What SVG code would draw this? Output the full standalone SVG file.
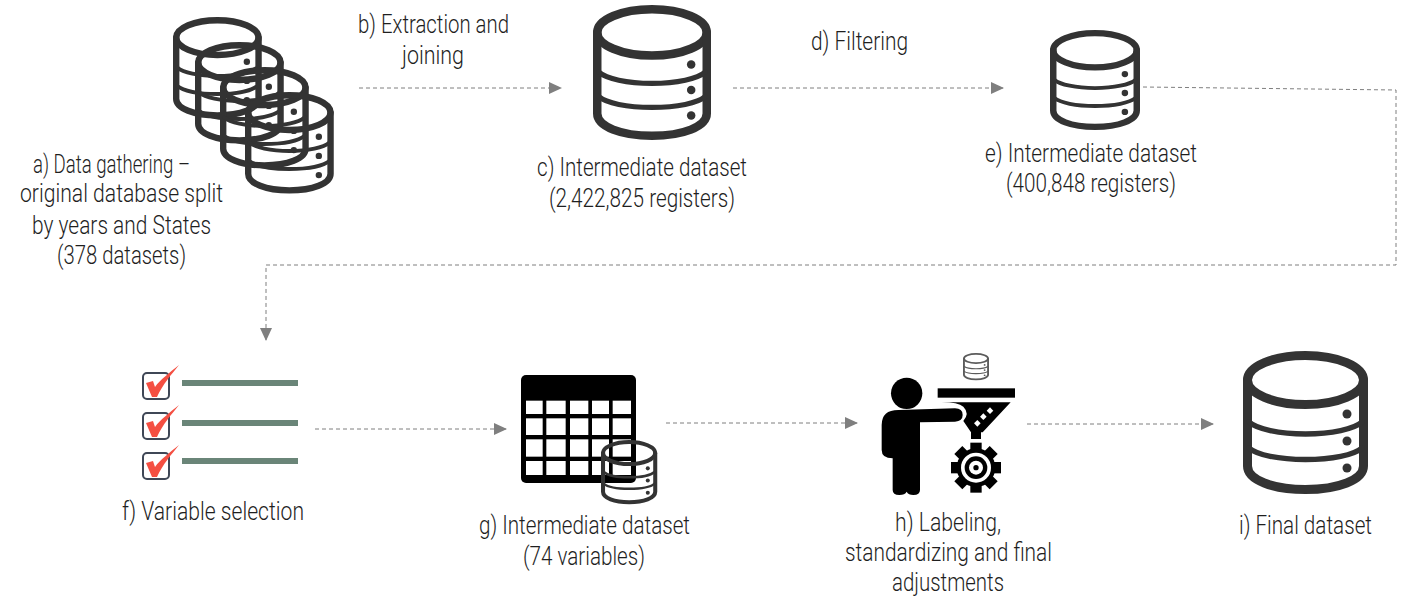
<svg xmlns="http://www.w3.org/2000/svg" xmlns:xlink="http://www.w3.org/1999/xlink" width="1428" height="611" viewBox="0 0 1428 611">
<style>
text{font-family:Roboto,"Liberation Sans",sans-serif;font-weight:300;font-size:25px;fill:#1f1f1f}
.c{fill:none;stroke:#7f7f7f;stroke-width:1;stroke-dasharray:4 3}
.db{fill:none;stroke:#333;stroke-width:9;stroke-linecap:round}
.thin{stroke-width:5.5}
.dot{fill:#333}
</style>
<defs>
<marker id="a" markerUnits="userSpaceOnUse" markerWidth="13" markerHeight="12" refX="12" refY="6" orient="auto"><path d="M0 0L13 6L0 12Z" fill="#7f7f7f"/></marker>
<g id="d">
<ellipse class="db" cx="62.5" cy="29" rx="58" ry="24.5"/>
<path class="db" d="M4.5 29V115C4.5 129 30 138.5 62.5 138.5S120.500 129 120.500 115V29"/>
<path class="db thin" d="M6 71C14 78 36 83 62.500 83S111 78 119 71M6 97C14 104 36 108.500 62.500 108.500S111 104 119 97"/>
<circle class="dot" cx="104" cy="63" r="4.500"/><circle class="dot" cx="104" cy="90" r="4.500"/><circle class="dot" cx="104" cy="117" r="4.500"/>
</g>
<g id="chk">
<rect x="1" y="1" width="26" height="26" rx="4" fill="#fff" stroke="#3f4756" stroke-width="2"/>
<path d="M4 11L11 9L13 15C18 8 27 1 37-7C29 3 21 12 15 25L10 25Z" fill="#f44f42"/>
</g>
</defs>
<g id="connectors">
<path class="c" d="M359 88H561" marker-end="url(#a)"/>
<path class="c" d="M733 88H1003" marker-end="url(#a)"/>
<path class="c" d="M1143 87L1396 90V265H266V340" marker-end="url(#a)"/>
<path class="c" d="M315 429H506" marker-end="url(#a)"/>
<path class="c" d="M666 423H857" marker-end="url(#a)"/>
<path class="c" d="M1027 424H1213" marker-end="url(#a)"/>
</g>
<g id="node-a">
<use xlink:href="#d" href="#d" transform="translate(173 17) scale(.71)"/>
<use xlink:href="#d" href="#d" transform="translate(195 42) scale(.71)"/>
<use xlink:href="#d" href="#d" transform="translate(220 67) scale(.71)"/>
<use xlink:href="#d" href="#d" transform="translate(245 92) scale(.71)"/>
<text x="33" y="173" textLength="157" lengthAdjust="spacingAndGlyphs">a) Data gathering –</text>
<text x="20" y="202" textLength="203" lengthAdjust="spacingAndGlyphs">original database split</text>
<text x="32" y="234" textLength="179" lengthAdjust="spacingAndGlyphs">by years and States</text>
<text x="57" y="264" textLength="129" lengthAdjust="spacingAndGlyphs">(378 datasets)</text>
</g>
<g id="label-b">
<text x="358" y="33" textLength="151" lengthAdjust="spacingAndGlyphs">b) Extraction and</text>
<text x="402" y="64" textLength="62" lengthAdjust="spacingAndGlyphs">joining</text>
</g>
<g id="node-c">
<use xlink:href="#d" href="#d" transform="translate(593 5) scale(.944)"/>
<text x="537" y="176" textLength="210" lengthAdjust="spacingAndGlyphs">c) Intermediate dataset</text>
<text x="549" y="207" textLength="186" lengthAdjust="spacingAndGlyphs">(2,422,825 registers)</text>
</g>
<g id="label-d"><text x="811" y="50" textLength="97" lengthAdjust="spacingAndGlyphs">d) Filtering</text></g>
<g id="node-e">
<use xlink:href="#d" href="#d" transform="translate(1050 30) scale(.72 .7)"/>
<text x="985" y="162" textLength="212" lengthAdjust="spacingAndGlyphs">e) Intermediate dataset</text>
<text x="1006" y="192" textLength="170" lengthAdjust="spacingAndGlyphs">(400,848 registers)</text>
</g>
<g id="node-f">
<use xlink:href="#chk" href="#chk" transform="translate(142 372)"/>
<use xlink:href="#chk" href="#chk" transform="translate(142 412)"/>
<use xlink:href="#chk" href="#chk" transform="translate(142 452)"/>
<g fill="#6a8578"><rect x="182" y="380" width="116" height="6"/><rect x="182" y="420" width="116" height="6"/><rect x="182" y="458" width="116" height="6"/></g>
<text x="122" y="520" textLength="182" lengthAdjust="spacingAndGlyphs">f) Variable selection</text>
</g>
<g id="node-g">
<rect x="521" y="375" width="115" height="108" rx="5" fill="#000"/>
<g fill="#fff" transform="translate(510 360) scale(.33333)">
<rect x="48" y="122" width="50" height="40"/><rect x="109" y="122" width="58" height="40"/><rect x="180" y="122" width="55" height="40"/><rect x="246" y="122" width="51" height="40"/><rect x="308" y="122" width="55" height="40"/>
<rect x="48" y="175" width="50" height="50"/><rect x="109" y="175" width="58" height="50"/><rect x="180" y="175" width="55" height="50"/><rect x="246" y="175" width="51" height="50"/><rect x="308" y="175" width="55" height="50"/>
<rect x="48" y="238" width="50" height="52"/><rect x="109" y="238" width="58" height="52"/><rect x="180" y="238" width="55" height="52"/><rect x="246" y="238" width="51" height="52"/><rect x="308" y="238" width="55" height="52"/>
<rect x="48" y="303" width="50" height="42"/><rect x="109" y="303" width="58" height="42"/><rect x="180" y="303" width="55" height="42"/><rect x="246" y="303" width="51" height="42"/><rect x="308" y="303" width="55" height="42"/>
</g>
<use xlink:href="#d" href="#d" transform="translate(601 440) scale(.45)"/>
<text x="479" y="534" textLength="211" lengthAdjust="spacingAndGlyphs">g) Intermediate dataset</text>
<text x="523" y="565" textLength="122" lengthAdjust="spacingAndGlyphs">(74 variables)</text>
</g>
<g id="node-h">
<use xlink:href="#d" href="#d" transform="translate(963 353) scale(.208 .19)" opacity=".8"/>
<g transform="translate(870 345) scale(.33333)">
<circle cx="110" cy="145" r="47"/>
<path d="M35 240Q35 195 85 195L255 190Q278 190 278 210Q278 228 255 230L150 232V435Q150 450 130 450Q115 450 110 440Q105 450 88 450Q68 450 68 435V340Q35 340 35 315Z"/>
<rect x="203" y="130" width="232" height="28"/>
<path d="M215 172H422L338 262H333V282H303V262L280 228Q300 205 280 185Q265 172 215 172Z"/>
<g fill="#fff"><rect x="353" y="190" width="14" height="14" transform="rotate(45 360 197)"/><rect x="333" y="208" width="14" height="14" transform="rotate(45 340 215)"/><rect x="315" y="228" width="14" height="14" transform="rotate(45 322 235)"/></g>
<g>
<circle cx="318" cy="368" r="58"/>
<g><rect x="301" y="293" width="34" height="150"/><rect x="301" y="293" width="34" height="150" transform="rotate(45 318 368)"/><rect x="301" y="293" width="34" height="150" transform="rotate(90 318 368)"/><rect x="301" y="293" width="34" height="150" transform="rotate(135 318 368)"/></g>
<circle cx="318" cy="368" r="45" fill="#fff"/>
<circle cx="318" cy="368" r="34"/>
<circle cx="318" cy="368" r="21" fill="#fff"/>
<circle cx="318" cy="368" r="8"/>
</g>
</g>
<text x="895" y="531" textLength="106" lengthAdjust="spacingAndGlyphs">h) Labeling,</text>
<text x="845" y="561" textLength="207" lengthAdjust="spacingAndGlyphs">standardizing and final</text>
<text x="892" y="591" textLength="112" lengthAdjust="spacingAndGlyphs">adjustments</text>
</g>
<g id="node-i">
<use xlink:href="#d" href="#d" transform="translate(1243 351)"/>
<text x="1239" y="534" textLength="133" lengthAdjust="spacingAndGlyphs">i) Final dataset</text>
</g>
</svg>
